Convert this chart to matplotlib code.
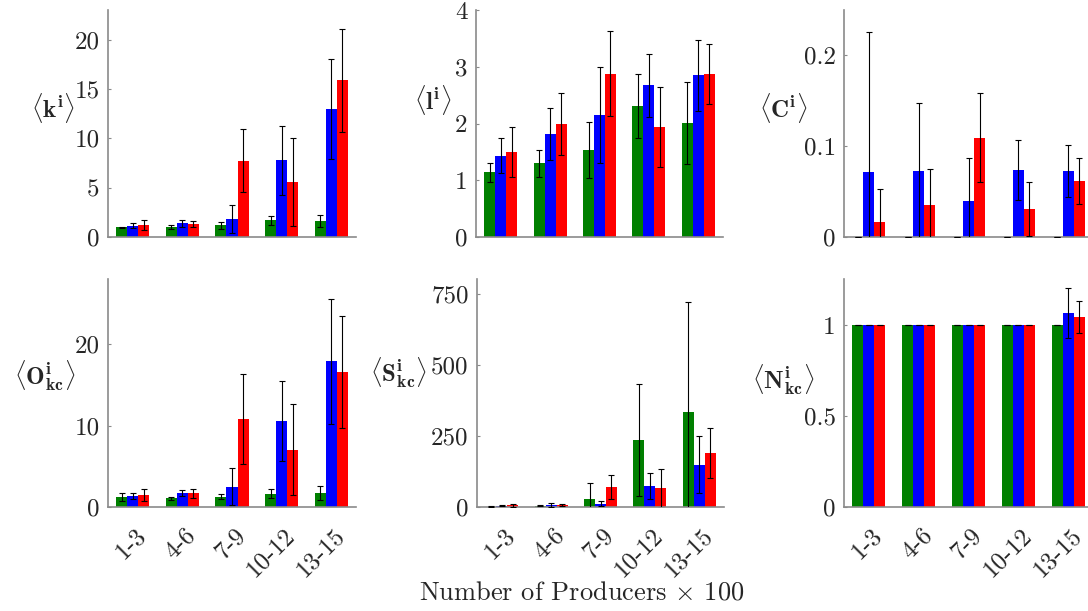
import numpy as np
import matplotlib
matplotlib.use("Agg")
import matplotlib.pyplot as plt
from matplotlib.transforms import ScaledTranslation

plt.rcParams['font.family'] = ['cmr10', 'DejaVu Serif']
plt.rcParams['mathtext.fontset'] = 'cm'
plt.rcParams['axes.formatter.use_mathtext'] = True

groups = ["1-3", "4-6", "7-9", "10-12", "13-15"]

# <k^i>
k_green = [1.00, 1.04, 1.21, 1.68, 1.62]
k_green_err = [0.05, 0.20, 0.35, 0.49, 0.62]
k_blue = [1.14, 1.41, 1.78, 7.78, 12.96]
k_blue_err = [0.27, 0.36, 1.42, 3.50, 5.10]
k_red = [1.21, 1.28, 7.71, 5.59, 15.86]
k_red_err = [0.54, 0.30, 3.20, 4.45, 5.24]

# <l^i>
l_green = [1.14, 1.30, 1.53, 2.31, 2.01]
l_green_err = [0.17, 0.24, 0.49, 0.57, 0.73]
l_blue = [1.43, 1.82, 2.15, 2.67, 2.85]
l_blue_err = [0.31, 0.46, 0.85, 0.56, 0.63]
l_red = [1.49, 1.99, 2.88, 1.94, 2.87]
l_red_err = [0.44, 0.54, 0.75, 0.70, 0.53]

# <C^i>
c_green = [0.0, 0.0, 0.0, 0.0, 0.0]
c_green_err = [0.0, 0.0, 0.0, 0.0, 0.0]
c_blue = [0.0714, 0.0725, 0.0392, 0.0736, 0.0722]
c_blue_err = [0.154, 0.075, 0.0476, 0.033, 0.0286]
c_red = [0.0168, 0.0352, 0.109, 0.0308, 0.0615]
c_red_err = [0.036, 0.0395, 0.049, 0.0298, 0.025]

# <O^i_kc>
o_green = [1.23, 1.07, 1.27, 1.64, 1.76]
o_green_err = [0.53, 0.20, 0.31, 0.57, 0.86]
o_blue = [1.35, 1.68, 2.50, 10.53, 17.87]
o_blue_err = [0.33, 0.35, 2.30, 4.92, 7.70]
o_red = [1.43, 1.68, 10.78, 7.05, 16.56]
o_red_err = [0.72, 0.57, 5.50, 5.60, 6.85]

# <S^i_kc>
s_green = [1.0, 4.7, 28.0, 236.0, 336.0]
s_green_err = [1.0, 2.0, 56.0, 197.0, 387.0]
s_blue = [4.7, 8.2, 11.8, 74.0, 149.0]
s_blue_err = [2.0, 7.0, 10.0, 46.5, 101.0]
s_red = [5.9, 7.0, 70.5, 66.0, 190.0]
s_red_err = [5.0, 5.0, 42.0, 68.0, 88.0]

# <N^i_kc>
n_green = [1.0, 1.0, 1.0, 1.0, 1.0]
n_green_err = [0.0, 0.0, 0.0, 0.0, 0.0]
n_blue = [1.0, 1.0, 1.0, 1.0, 1.066]
n_blue_err = [0.0, 0.0, 0.0, 0.0, 0.135]
n_red = [1.0, 1.0, 1.0, 1.0, 1.044]
n_red_err = [0.0, 0.0, 0.0, 0.0, 0.09]

panels = [
    (r"$\langle \mathbf{k}^{\mathbf{i}} \rangle$", (k_green, k_green_err, k_blue, k_blue_err, k_red, k_red_err),
     23.0, [0, 5, 10, 15, 20], ["0", "5", "10", "15", "20"]),
    (r"$\langle \mathbf{l}^{\mathbf{i}} \rangle$", (l_green, l_green_err, l_blue, l_blue_err, l_red, l_red_err),
     4.0, [0, 1, 2, 3, 4], ["0", "1", "2", "3", "4"]),
    (r"$\langle \mathbf{C}^{\mathbf{i}} \rangle$", (c_green, c_green_err, c_blue, c_blue_err, c_red, c_red_err),
     0.249, [0, 0.1, 0.2], ["0", "0.1", "0.2"]),
    (r"$\langle \mathbf{O}^{\mathbf{i}}_{\mathbf{kc}} \rangle$", (o_green, o_green_err, o_blue, o_blue_err, o_red, o_red_err),
     28.0, [0, 10, 20], ["0", "10", "20"]),
    (r"$\langle \mathbf{S}^{\mathbf{i}}_{\mathbf{kc}} \rangle$", (s_green, s_green_err, s_blue, s_blue_err, s_red, s_red_err),
     803.0, [0, 250, 500, 750], ["0", "250", "500", "750"]),
    (r"$\langle \mathbf{N}^{\mathbf{i}}_{\mathbf{kc}} \rangle$", (n_green, n_green_err, n_blue, n_blue_err, n_red, n_red_err),
     1.253, [0, 0.5, 1], ["0", "0.5", "1"]),
]

W, H = 1088, 611
fig = plt.figure(figsize=(W / 100, H / 100), dpi=100)

# axes boxes in pixels: (left, top, right, bottom)
boxes = [
    (108, 10, 356, 237),
    (476, 10, 723, 237),
    (844, 10, 1093, 237),
    (108, 279, 356, 507),
    (477, 279, 724, 507),
    (844, 279, 1093, 507),
]
# y-label anchor (right x, center y) in pixels
label_pos = [(75, 108), (452, 100), (808, 108), (76, 376), (427, 373), (814, 380)]

colors = ["#008000", "#0000ff", "#ff0000"]
axis_col = "#8a8a8a"
text_col = "#262626"
x = np.arange(1, 6)
bw = 0.222
offs = [-bw, 0.0, bw]

for i, (lab, data, ytop, yt, ytl) in enumerate(panels):
    l, t, r, b = boxes[i]
    ax = fig.add_axes([l / W, 1 - b / H, (r - l) / W, (b - t) / H])
    for j in range(3):
        vals = data[2 * j]
        errs = data[2 * j + 1]
        ax.bar(x + offs[j], vals, width=bw, color=colors[j], edgecolor="none", zorder=2)
        ax.errorbar(x + offs[j], vals, yerr=errs, fmt="none", ecolor="black",
                    elinewidth=0.8, capsize=2.5, capthick=0.8, zorder=3)
    ax.set_xlim(0.5, 5.5)
    ax.set_ylim(0, ytop)
    ax.set_yticks(yt)
    ax.set_yticklabels(ytl)
    for s in ["top", "right"]:
        ax.spines[s].set_visible(False)
    for s in ["left", "bottom"]:
        ax.spines[s].set_color(axis_col)
        ax.spines[s].set_linewidth(1.2)
    ax.tick_params(axis="y", direction="in", length=2.5, width=0.8, color=axis_col,
                   labelsize=18, labelcolor=text_col, pad=6)
    ax.tick_params(axis="x", length=0, pad=0)
    ax.set_xticks(x)
    if i >= 3:
        ax.set_xticklabels(groups, rotation=45, ha="right", va="center",
                           rotation_mode="anchor", fontsize=18, color=text_col)
        shift = ScaledTranslation(10 / 100, -25 / 100, fig.dpi_scale_trans)
        for tl in ax.xaxis.get_majorticklabels():
            tl.set_transform(tl.get_transform() + shift)
    else:
        ax.set_xticklabels([])
    lx, ly = label_pos[i]
    fig.text(lx / W, 1 - ly / H, lab, ha="right", va="center", fontsize=18, color=text_col)

fig.text(582 / W, 1 - 593 / H, r"Number of Producers $\times$ 100", ha="center", va="center",
         fontsize=19, color=text_col)

fig.savefig("out.png", dpi=100)
